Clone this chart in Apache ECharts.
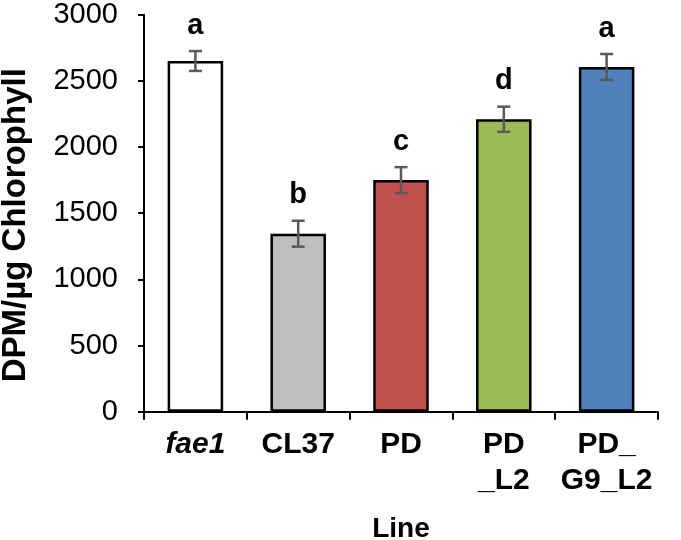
<!DOCTYPE html>
<html>
<head>
<meta charset="utf-8">
<script src="https://cdn.jsdelivr.net/npm/echarts@6/dist/echarts.min.js"></script>
<style>html,body{margin:0;padding:0;background:#fff}#chart{width:681px;height:540px}</style>
</head>
<body>
<div id="chart"></div>
<script>
var categories = ['fae1', 'CL37', 'PD', 'PD\n_L2', 'PD_\nG9_L2'];
var values = [2650, 1345, 1750, 2210, 2605];
var errors = [75, 98, 98, 95, 98];
var letters = ['a', 'b', 'c', 'd', 'a'];
var colors = ['#ffffff', '#bfbfbf', '#c0504d', '#9bbb59', '#4f81bd'];
var yTicks = [0, 500, 1000, 1500, 2000, 2500, 3000];

var FONT = '"Liberation Sans", Arial, sans-serif';
var chart = echarts.init(document.getElementById('chart'));

var errData = values.map(function (v, i) { return [i, v, errors[i], letters[i]]; });

chart.setOption({
  backgroundColor: '#ffffff',
  animation: false,
  grid: { left: 144, right: 23, top: 14.7, bottom: 128.3, containLabel: false, outerBoundsMode: 'none' },
  xAxis: {
    type: 'category',
    data: categories,
    name: 'Line',
    nameLocation: 'middle',
    nameGap: 103,
    nameTextStyle: { fontFamily: FONT, fontSize: 28, fontWeight: 'bold', color: '#000', lineHeight: 29 },
    axisLine: { lineStyle: { color: '#000', width: 2 } },
    axisTick: { show: true, alignWithLabel: false, length: 8, lineStyle: { color: '#000', width: 2 } },
    axisLabel: {
      margin: 15,
      interval: 0,
      fontFamily: FONT, fontSize: 30, fontWeight: 'bold', color: '#000', lineHeight: 36,
      formatter: function (v) { return v === 'fae1' ? '{i|' + v + '}' : v; },
      rich: { i: { fontFamily: FONT, fontSize: 30, fontWeight: 'bold', fontStyle: 'italic', color: '#000', lineHeight: 36 } }
    }
  },
  yAxis: {
    type: 'value',
    min: yTicks[0],
    max: yTicks[yTicks.length - 1],
    interval: 500,
    name: 'DPM/µg Chlorophyll',
    nameLocation: 'middle',
    nameGap: 111,
    nameTextStyle: { fontFamily: FONT, fontSize: 33, fontWeight: 'bold', color: '#000', lineHeight: 34, padding: [0, 24, 0, 0] },
    splitLine: { show: false },
    axisLine: { show: true, lineStyle: { color: '#000', width: 2 } },
    axisTick: { show: true, length: 6, lineStyle: { color: '#000', width: 2 } },
    axisLabel: { margin: 26, fontFamily: FONT, fontSize: 29, color: '#000',
      formatter: function (v) { return String(v); } }
  },
  series: [
    {
      type: 'bar',
      barWidth: '54%',
      data: values.map(function (v, i) {
        return { value: v, itemStyle: { color: colors[i] } };
      }),
      itemStyle: { borderColor: '#000', borderWidth: 2.5 }
    },
    {
      type: 'custom',
      data: errData,
      z: 10,
      renderItem: function (params, api) {
        var i = api.value(0), v = api.value(1), e = api.value(2);
        var top = api.coord([i, v + e]);
        var bot = api.coord([i, v - e]);
        var hw = 6.5;
        var st = { stroke: '#595959', lineWidth: 2.5 };
        return {
          type: 'group',
          children: [
            { type: 'line', shape: { x1: top[0], y1: top[1], x2: bot[0], y2: bot[1] }, style: st },
            { type: 'line', shape: { x1: top[0] - hw, y1: top[1], x2: top[0] + hw, y2: top[1] }, style: st },
            { type: 'line', shape: { x1: bot[0] - hw, y1: bot[1], x2: bot[0] + hw, y2: bot[1] }, style: st },
            { type: 'text', x: top[0], y: top[1] - 11,
              style: { text: letters[params.dataIndex], fontFamily: FONT, fontSize: 29, fontWeight: 'bold', fill: '#000', align: 'center', verticalAlign: 'bottom' } }
          ]
        };
      }
    }
  ]
});
</script>
</body>
</html>
